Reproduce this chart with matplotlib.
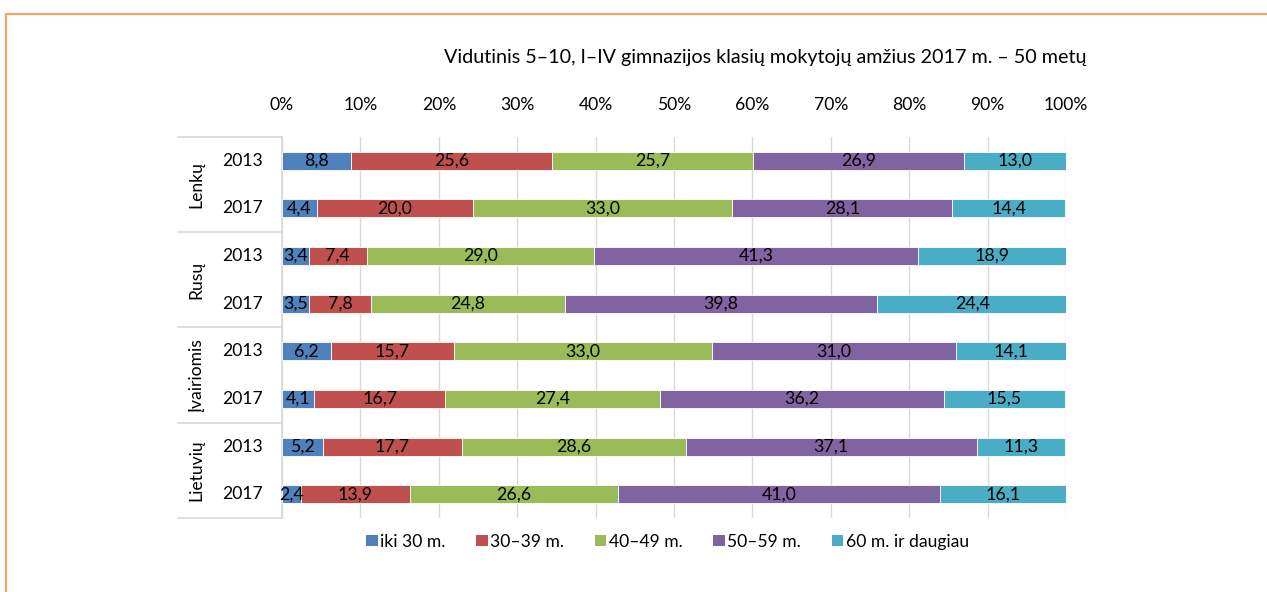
import numpy as np
import matplotlib.pyplot as plt
from matplotlib.patches import Patch
from matplotlib.lines import Line2D

plt.rcParams['font.family'] = ['Lato', 'DejaVu Sans']

groups = ['Lenkų', 'Rusų', 'Įvairiomis', 'Lietuvių']
years = ['2013', '2017']
series = ['iki 30 m.', '30–39 m.', '40–49 m.', '50–59 m.', '60 m. ir daugiau']
colors = ['#4F81BD', '#C0504D', '#9BBB59', '#8064A2', '#4BACC6']

# rows top to bottom: Lenkų 2013, Lenkų 2017, Rusų 2013, ...
iki30 = [8.8, 4.4, 3.4, 3.5, 6.2, 4.1, 5.2, 2.4]
m30_39 = [25.6, 20.0, 7.4, 7.8, 15.7, 16.7, 17.7, 13.9]
m40_49 = [25.7, 33.0, 29.0, 24.8, 33.0, 27.4, 28.6, 26.6]
m50_59 = [26.9, 28.1, 41.3, 39.8, 31.0, 36.2, 37.1, 41.0]
m60 = [13.0, 14.4, 18.9, 24.4, 14.1, 15.5, 11.3, 16.1]
values = [iki30, m30_39, m40_49, m50_59, m60]

title = 'Vidutinis 5–10, I–IV gimnazijos klasių mokytojų amžius 2017 m. – 50 metų'

fig = plt.figure(figsize=(12.67, 5.92), dpi=100)
ax = fig.add_axes([0.2226, 0.125, 0.6188, 0.6436])

n = len(iki30)
y = np.arange(n)
left = np.zeros(n)
for vals, col in zip(values, colors):
    vals = np.array(vals)
    ax.barh(y, vals, left=left, height=0.38, color=col, edgecolor='white', linewidth=0.6, zorder=3)
    for yi, l, v in zip(y, left, vals):
        ax.text(l + v / 2, yi, f'{v:.1f}'.replace('.', ','), ha='center', va='center',
                fontsize=12.8, color='black', zorder=4)
    left += vals

ax.set_xlim(0, 100)
ax.set_ylim(n - 0.5, -0.5)
ax.set_xticks(np.arange(0, 101, 10))
ax.set_xticklabels([f'{t}%' for t in range(0, 101, 10)], fontsize=12.6)
ax.xaxis.tick_top()
ax.tick_params(axis='x', length=0, pad=17)
ax.set_yticks([])
ax.grid(axis='x', color='#D9D9D9', linewidth=1, zorder=0)
for s in ['top', 'right', 'bottom']:
    ax.spines[s].set_visible(False)
ax.spines['left'].set_color('#D9D9D9')
ax.spines['left'].set_linewidth(1.2)

# category labels
trans = ax.get_yaxis_transform()
for yi in y:
    ax.text(-0.024, yi, years[yi % 2], transform=trans, ha='right', va='center', fontsize=12.6)
for gi, g in enumerate(groups):
    ax.text(-0.109, gi * 2 + 0.5, g, transform=trans, ha='center', va='center',
            rotation=90, fontsize=12.6)
for b in np.arange(-0.5, n, 2):
    ax.add_line(Line2D([-0.133, 0], [b, b], transform=trans, color='#D9D9D9',
                       linewidth=1.2, clip_on=False))

fig.text(0.604, 0.903, title, ha='center', va='center', fontsize=14.2)

handles = [Patch(facecolor=c, edgecolor='none') for c in colors]
fig.legend(handles, series, loc='center', bbox_to_anchor=(0.527, 0.085), ncol=5,
           frameon=False, fontsize=12.6, handlelength=0.65, handleheight=0.65,
           handletextpad=0.15, columnspacing=1.75)

# orange frame lines (top and left)
fig.add_artist(Line2D([6 / 1267, 1], [1 - 14 / 592, 1 - 14 / 592], transform=fig.transFigure,
                      color='#F7A25A', linewidth=1.5))
fig.add_artist(Line2D([6 / 1267, 6 / 1267], [0, 1 - 14 / 592], transform=fig.transFigure,
                      color='#F7A25A', linewidth=1.5))

fig.savefig('out.png', dpi=100)
